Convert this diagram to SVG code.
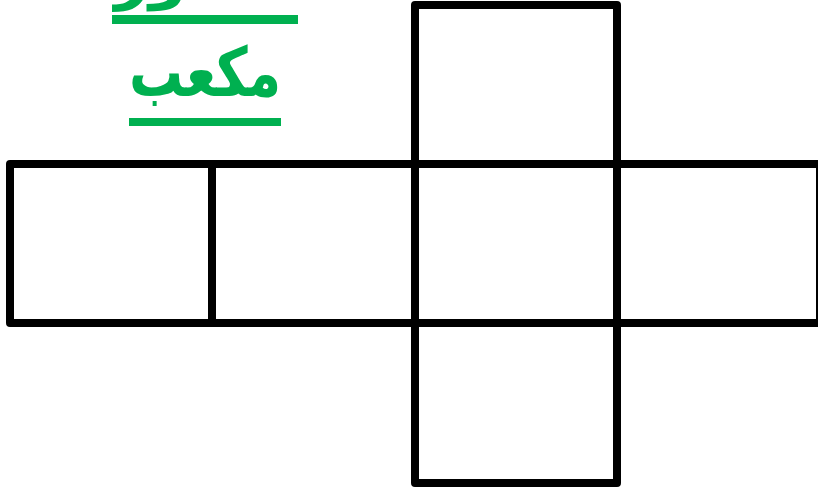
<svg xmlns="http://www.w3.org/2000/svg" width="818" height="491" viewBox="0 0 818 491">
<style>
.face{fill:#fff;stroke:#000;stroke-width:8;stroke-linejoin:round}
.t{fill:#00B050;font-family:"DejaVu Sans",sans-serif;font-weight:bold;font-size:60px;text-anchor:middle}
.u{fill:#00B050}
</style>
<rect width="818" height="491" fill="#fff"/>
<g id="title">
<text class="t" x="212" y="-3" direction="rtl">منشور</text>
<rect class="u" x="112" y="15" width="186" height="9"/>
<text class="t" x="205" y="96" direction="rtl" style="font-size:68px" textLength="152" lengthAdjust="spacingAndGlyphs">مكعب</text>
<rect class="u" x="129" y="118" width="152" height="8"/>
</g>
<g id="face-top"><rect class="face" x="415" y="5" width="202" height="159"/></g>
<g id="face-left"><rect class="face" x="10" y="164" width="202" height="159"/></g>
<g id="face-midleft"><rect class="face" x="212" y="164" width="203" height="159"/></g>
<g id="face-center"><rect class="face" x="415" y="164" width="202" height="159"/></g>
<g id="face-right"><rect class="face" x="617" y="164" width="203" height="159"/></g>
<g id="face-bottom"><rect class="face" x="415" y="323" width="202" height="160"/></g>
</svg>
